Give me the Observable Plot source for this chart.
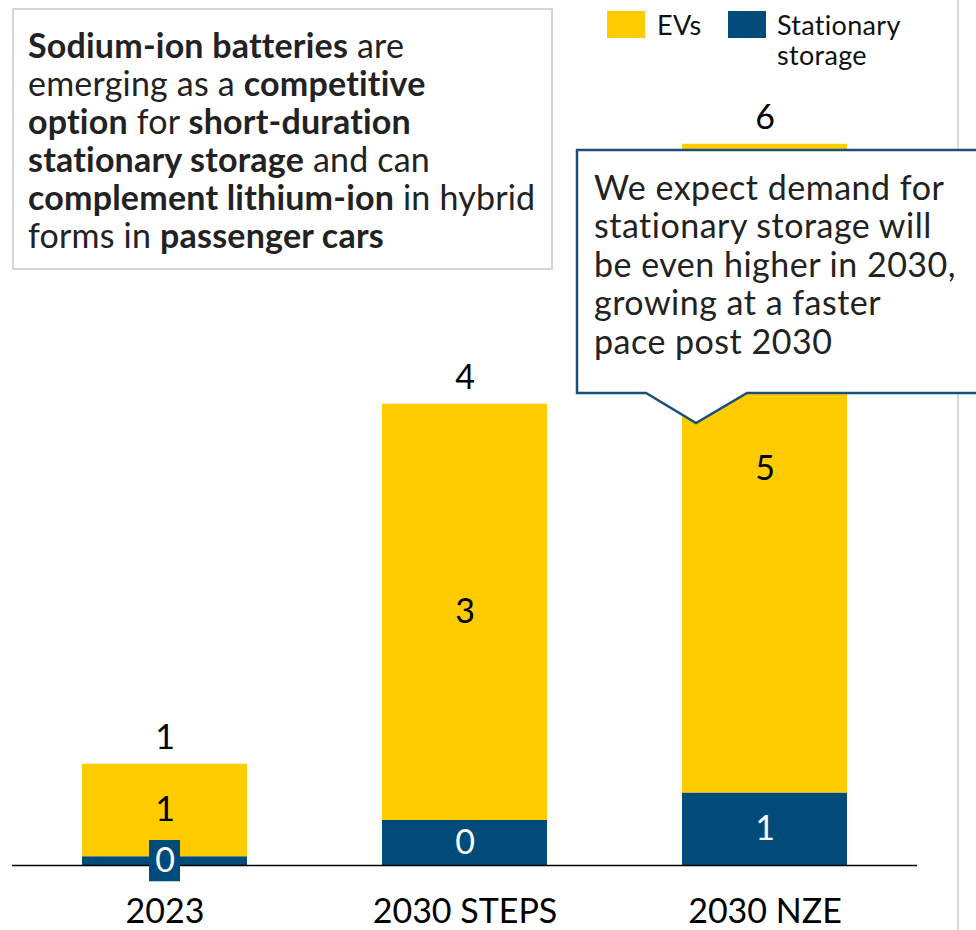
<!DOCTYPE html>
<html><head><meta charset="utf-8">
<script src="https://cdn.jsdelivr.net/npm/d3@7"></script>
<script src="https://cdn.jsdelivr.net/npm/@observablehq/plot@0.6"></script>
<style>
body{margin:0;background:#fff;font-family:Lato,sans-serif;}
#wrap{position:relative;width:976px;height:930px;overflow:hidden;background:#fff;}
#wrap svg.chart{position:absolute;left:0;top:0;}
.abs{position:absolute;}
#note{left:12px;top:8px;width:541px;height:262px;border:2px solid #d6d6d6;box-sizing:border-box;padding:16px 0 0 14px;font-size:34px;line-height:38px;letter-spacing:0.2px;color:#222;white-space:nowrap;background:#fff;}
#note b{font-weight:700;}
#callout-text{left:594px;top:168px;font-size:34px;line-height:38.4px;letter-spacing:0.5px;color:#222;white-space:nowrap;}
.sw{width:38px;height:27px;top:11px;}
.lg{font-size:27px;line-height:30px;letter-spacing:0.3px;color:#111;top:10px;white-space:nowrap;}
#vline{left:957px;top:0;width:2px;height:930px;background:#d9d9d9;}
</style></head><body>
<div id="wrap"></div>
<script>
const categories = ["2023", "2030 STEPS", "2030 NZE"];
const seriesNames = ["Stationary storage", "EVs"];
const stationary = [0.07, 0.36, 0.58];
const evs = [0.74, 3.33, 5.19];
const colors = ["#004b7a", "#ffcc00"];
const legendLabels = ["EVs", "Stationary<br>storage"];

const rows = categories.flatMap((c, i) => [
  {category: c, series: seriesNames[0], value: stationary[i]},
  {category: c, series: seriesNames[1], value: evs[i]}
]);
const totals = categories.map((c, i) => ({category: c, total: stationary[i] + evs[i]}));
const fmt = d3.format(".0f");

const chart = Plot.plot({
  width: 976, height: 930,
  marginLeft: 12, marginRight: 59, marginTop: 15, marginBottom: 65,
  style: {fontFamily: "Lato, sans-serif", background: "transparent", color: "#000"},
  x: {domain: categories, paddingInner: 0.4485, paddingOuter: 0.2276, label: null, axis: null},
  y: {domain: [0, 6.8], axis: null},
  color: {domain: seriesNames, range: colors},
  marks: [
    Plot.barY(rows, {x: "category", y: "value", fill: "series"}),
    Plot.ruleY([0], {stroke: "#000", strokeWidth: 1.5}),
    Plot.barY(rows.filter(d => d.category === categories[0] && d.series === seriesNames[0]),
      {x: "category", y1: d => d.value / 2 - 0.165, y2: d => d.value / 2 + 0.165, fill: colors[0], insetLeft: 67, insetRight: 67}),
    Plot.text(rows, Plot.stackY({x: "category", y: "value", z: "series",
      text: d => d.series === "EVs" ? fmt(d.value) : null, fill: "#000", fontSize: 34})),
    Plot.text(rows, Plot.stackY({x: "category", y: "value", z: "series",
      text: d => d.series !== "EVs" ? fmt(d.value) : null, fill: "#fff", fontSize: 34})),
    Plot.text(totals, {x: "category", y: "total", text: d => fmt(d.total), dy: -26, fill: "#000", fontSize: 34}),
    Plot.axisX({tickSize: 0, tickPadding: 33, fontSize: 34, label: null})
  ]
});
chart.classList.add("chart");
const wrap = document.getElementById("wrap");
wrap.appendChild(chart);

wrap.insertAdjacentHTML("beforeend", `
<div id="vline" class="abs"></div>
<div id="note" class="abs"><b>Sodium-ion batteries</b> are<br>emerging as a <b>competitive</b><br><b>option</b> for <b>short-duration</b><br><b>stationary storage</b> and can<br><b>complement lithium-ion</b> in hybrid<br>forms in <b>passenger cars</b></div>
<svg class="abs" style="left:0;top:0" width="976" height="930"><path d="M577,150H990V393H747L696,423L646,393H577Z" fill="#fff" stroke="#1b4f7a" stroke-width="2.5"/></svg>
<div id="callout-text" class="abs">We expect demand for<br>stationary storage will<br>be even higher in 2030,<br>growing at a faster<br>pace post 2030</div>
<div class="abs sw" style="left:607px;background:${colors[1]}"></div>
<div class="abs lg" style="left:657px">${legendLabels[0]}</div>
<div class="abs sw" style="left:728px;background:${colors[0]}"></div>
<div class="abs lg" style="left:777px">${legendLabels[1]}</div>
`);
</script>
</body></html>
